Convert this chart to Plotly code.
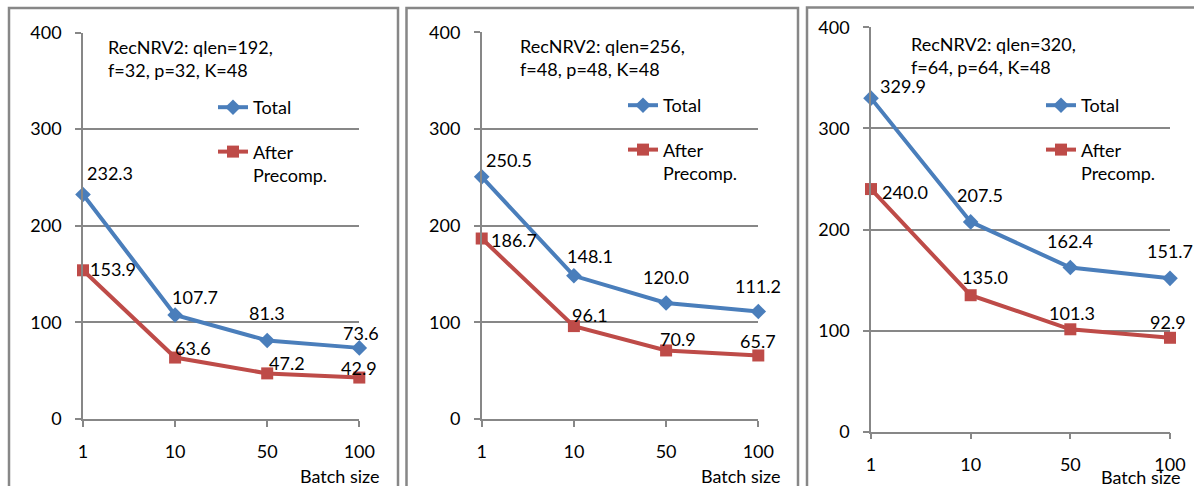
import plotly.graph_objects as go

W, H = 1194, 486

# Batch sizes on the category axis
batch_sizes = ["1", "10", "50", "100"]

# Timings per configuration (Total vs. after precomputation)
total_q192 = [232.3, 107.7, 81.3, 73.6]
after_q192 = [153.9, 63.6, 47.2, 42.9]
total_q256 = [250.5, 148.1, 120.0, 111.2]
after_q256 = [186.7, 96.1, 70.9, 65.7]
total_q320 = [329.9, 207.5, 162.4, 151.7]
after_q320 = [240.0, 135.0, 101.3, 92.9]

captions = [
    "RecNRV2: qlen=192,<br>f=32, p=32, K=48",
    "RecNRV2: qlen=256,<br>f=48, p=48, K=48",
    "RecNRV2: qlen=320,<br>f=64, p=64, K=48",
]
series_names = ["Total", "After<br>Precomp."]
y_ticks = [0, 100, 200, 300, 400]

# ---- layout / styling -------------------------------------------------------
BLUE = "#4A7EBB"
RED = "#BE4B48"
GRID = "#878787"
FONT = "Lato"

def fx(px):
    return px / W

def fy(py):
    return 1 - py / H

# plot-area boxes in pixels: (left, right, top, bottom)
boxes = [
    (83, 359.3, 32.5, 419),
    (481.7, 758.3, 32.3, 419),
    (871, 1170, 27.3, 431.7),
]
# panel frames in pixels: (left, right, top)
frames = [(9, 398, 8), (406.5, 798, 8), (807, 1200, 7.5)]
caption_pos = [(106, 34), (518, 33), (909, 31)]
legend_pos = [(213, 89), (623, 87), (1041, 87)]
batch_label_pos = [(382, 476), (783, 476), (1183, 477)]

# data-label offsets (dx, dy) in pixels relative to each point
total_offsets = [
    [(27, -22), (20, -18), (0, -27), (2, -15)],
    [(27, -17), (16, -20), (0, -26), (0, -26)],
    [(32, -12), (9, -27), (0, -27), (0, -27)],
]
after_offsets = [
    [(30, -1), (18, -10), (20, -10), (0, -10)],
    [(32, 1), (16, -11), (12, -11), (0, -14)],
    [(34, 3), (14, -18), (2, -16), (-2, -16)],
]

panels = [
    (total_q192, after_q192),
    (total_q256, after_q256),
    (total_q320, after_q320),
]

fig = go.Figure()
annotations = []
shapes = []
xpos = list(range(len(batch_sizes)))

for i, (tot, aft) in enumerate(panels):
    n = "" if i == 0 else str(i + 1)
    xa, ya = "x" + n, "y" + n
    leg = "legend" + n
    fig.add_trace(go.Scatter(
        x=xpos, y=tot, name=series_names[0], mode="lines+markers",
        line=dict(color=BLUE, width=4),
        marker=dict(symbol="diamond", size=12, color=BLUE),
        xaxis=xa, yaxis=ya, legend=leg, legendgroup=f"tot{i}",
        cliponaxis=False,
    ))
    fig.add_trace(go.Scatter(
        x=xpos, y=aft, name=series_names[1], mode="lines+markers",
        line=dict(color=RED, width=4),
        marker=dict(symbol="square", size=12, color=RED),
        xaxis=xa, yaxis=ya, legend=leg, legendgroup=f"aft{i}",
        cliponaxis=False,
    ))

    for vals, offs in ((tot, total_offsets[i]), (aft, after_offsets[i])):
        for k, v in enumerate(vals):
            annotations.append(dict(
                x=xpos[k], y=v, xref=xa, yref=ya, text=f"{v:.1f}",
                showarrow=False, xshift=offs[k][0], yshift=-offs[k][1],
                font=dict(family=FONT, size=18, color="black"),
            ))

    l, r, t, b = boxes[i]
    axis_common = dict(
        showline=True, linecolor=GRID, linewidth=1.5,
        ticks="outside", tickcolor=GRID, ticklen=6, tickwidth=1.5,
        tickfont=dict(family=FONT, size=18, color="black"), zeroline=False,
    )
    fig.layout["xaxis" + n] = dict(
        axis_common, domain=[fx(l), fx(r)], range=[0, 3],
        tickvals=xpos, ticktext=batch_sizes, showgrid=False,
        ticklabelstandoff=10, anchor=ya,
    )
    fig.layout["yaxis" + n] = dict(
        axis_common, domain=[fy(b), fy(t)], range=[0, 400],
        tickvals=y_ticks, showgrid=True, gridcolor=GRID, gridwidth=1.5,
        ticklabelstandoff=10, anchor=xa,
    )

    cx, cy = caption_pos[i]
    annotations.append(dict(
        x=fx(cx), y=fy(cy), xref="paper", yref="paper", text=captions[i],
        showarrow=False, xanchor="left", yanchor="top", align="left",
        font=dict(family=FONT, size=18, color="black"),
    ))
    bx, by = batch_label_pos[i]
    annotations.append(dict(
        x=fx(bx), y=fy(by), xref="paper", yref="paper", text="Batch size",
        showarrow=False, xanchor="right", yanchor="middle",
        font=dict(family=FONT, size=18, color="black"),
    ))

    fl, fr, ft = frames[i]
    shapes.append(dict(
        type="rect", xref="paper", yref="paper",
        x0=fx(fl), x1=fx(fr), y0=fy(H + 10), y1=fy(ft),
        line=dict(color=GRID, width=2.5), fillcolor="rgba(0,0,0,0)",
    ))

    lx, ly = legend_pos[i]
    fig.layout[leg] = dict(
        x=fx(lx), y=fy(ly), xanchor="left", yanchor="top",
        bgcolor="rgba(0,0,0,0)", borderwidth=0, valign="top",
        font=dict(family=FONT, size=18, color="black"),
        tracegroupgap=18, traceorder="grouped",
    )

fig.update_layout(
    width=W, height=H,
    margin=dict(l=0, r=0, t=0, b=0, autoexpand=False),
    paper_bgcolor="white", plot_bgcolor="white",
    font=dict(family=FONT, size=18, color="black"),
    annotations=annotations, shapes=shapes, showlegend=True,
)

fig.write_html("out.html")
